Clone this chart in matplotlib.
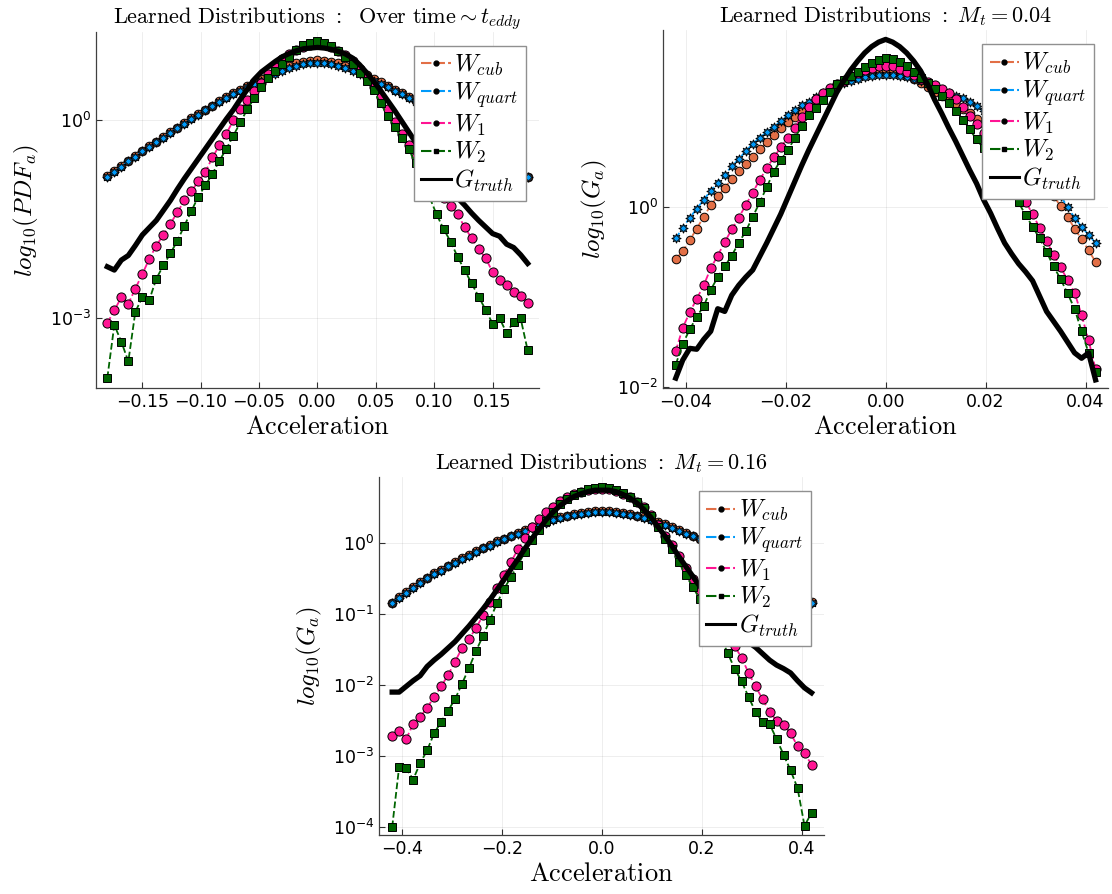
import numpy as np
import matplotlib
matplotlib.use("Agg")
import matplotlib.pyplot as plt
from matplotlib.lines import Line2D
from matplotlib.ticker import FixedLocator, LogFormatterMathtext, FuncFormatter

plt.rcParams['mathtext.fontset'] = 'cm'
plt.rcParams['font.family'] = 'DejaVu Sans'
plt.rcParams['axes.unicode_minus'] = True

# ── Data : log10 of the learned / true densities ──

# panel 1 : over time ~ t_eddy
ACC_1 = np.linspace(-0.18, 0.18, 61)
CUB_1 = [-0.85, -0.77, -0.70, -0.62, -0.55, -0.48, -0.40, -0.33, -0.26, -0.19,
         -0.12, -0.05, 0.02, 0.08, 0.15, 0.21, 0.28, 0.34, 0.40, 0.45,
         0.51, 0.57, 0.62, 0.67, 0.72, 0.77, 0.81, 0.85, 0.87, 0.89,
         0.90,
         0.89, 0.87, 0.85, 0.81, 0.77, 0.72, 0.67, 0.62, 0.57, 0.51,
         0.45, 0.40, 0.34, 0.28, 0.21, 0.15, 0.08, 0.02, -0.05, -0.12,
         -0.19, -0.26, -0.33, -0.40, -0.48, -0.55, -0.62, -0.70, -0.77, -0.86]
QUART_1 = [-0.87, -0.79, -0.71, -0.63, -0.56, -0.48, -0.41, -0.34, -0.27, -0.20,
           -0.12, -0.06, 0.01, 0.07, 0.14, 0.20, 0.26, 0.32, 0.38, 0.43,
           0.49, 0.54, 0.59, 0.64, 0.69, 0.74, 0.78, 0.81, 0.84, 0.85,
           0.86,
           0.85, 0.84, 0.81, 0.78, 0.74, 0.69, 0.64, 0.59, 0.54, 0.49,
           0.43, 0.38, 0.32, 0.26, 0.20, 0.14, 0.07, 0.01, -0.06, -0.12,
           -0.20, -0.27, -0.34, -0.41, -0.48, -0.56, -0.63, -0.71, -0.79, -0.87]
W1_1 = [-3.07, -2.88, -2.68, -2.78, -2.55, -2.33, -2.10, -1.90, -1.74, -1.57,
        -1.40, -1.22, -1.08, -0.93, -0.79, -0.57, -0.39, -0.21, -0.01, 0.16,
        0.30, 0.43, 0.56, 0.69, 0.80, 0.92, 0.99, 1.05, 1.10, 1.13,
        1.15,
        1.14, 1.09, 1.04, 0.97, 0.88, 0.77, 0.64, 0.50, 0.34, 0.16,
        -0.03, -0.21, -0.39, -0.57, -0.74, -0.91, -1.05, -1.18, -1.31, -1.43,
        -1.62, -1.79, -1.95, -2.09, -2.30, -2.42, -2.50, -2.60, -2.66, -2.77]
W2_1 = [-3.90, -3.10, -3.35, -3.65, -2.90, -2.68, -2.72, -2.40, -2.20, -2.02,
        -1.83, -1.60, -1.38, -1.16, -0.99, -0.82, -0.62, -0.44, -0.24, -0.04,
        0.16, 0.33, 0.50, 0.63, 0.74, 0.84, 0.95, 1.05, 1.12, 1.16,
        1.18,
        1.16, 1.11, 1.04, 0.95, 0.84, 0.71, 0.58, 0.44, 0.25, 0.06,
        -0.11, -0.27, -0.45, -0.65, -0.85, -1.17, -1.43, -1.65, -1.84, -2.07,
        -2.27, -2.47, -2.67, -2.87, -3.08, -3.00, -3.22, -3.05, -3.00, -3.48]
TRUTH_1 = [-2.22, -2.27, -2.12, -2.05, -1.90, -1.74, -1.63, -1.52, -1.37, -1.22,
           -1.05, -0.89, -0.74, -0.59, -0.44, -0.29, -0.14, 0.01, 0.15, 0.31,
           0.46, 0.61, 0.72, 0.80, 0.88, 0.95, 1.00, 1.04, 1.07, 1.08,
           1.09,
           1.08, 1.06, 1.03, 0.99, 0.93, 0.83, 0.71, 0.58, 0.44, 0.29,
           0.14, -0.02, -0.18, -0.34, -0.50, -0.64, -0.79, -0.92, -1.04, -1.18,
           -1.29, -1.41, -1.52, -1.62, -1.72, -1.76, -1.88, -1.93, -2.04, -2.17]

# panel 2 : M_t = 0.04
ACC_2 = np.linspace(-0.042, 0.042, 61)
CUB_2 = [-0.58, -0.49, -0.37, -0.24, -0.11, 0.02, 0.12, 0.21, 0.31, 0.40,
         0.48, 0.56, 0.64, 0.72, 0.80, 0.88, 0.94, 1.00, 1.06, 1.11,
         1.18, 1.24, 1.31, 1.36, 1.41, 1.45, 1.47, 1.49, 1.51, 1.52,
         1.52,
         1.51, 1.49, 1.46, 1.42, 1.38, 1.33, 1.28, 1.23, 1.19, 1.13,
         1.09, 1.04, 0.98, 0.92, 0.86, 0.79, 0.72, 0.64, 0.56, 0.49,
         0.40, 0.31, 0.22, 0.12, 0.01, -0.11, -0.24, -0.36, -0.48, -0.61]
QUART_2 = [-0.35, -0.23, -0.12, -0.02, 0.08, 0.18, 0.27, 0.36, 0.45, 0.53,
           0.62, 0.70, 0.77, 0.83, 0.89, 0.95, 1.02, 1.08, 1.13, 1.17,
           1.22, 1.27, 1.31, 1.35, 1.38, 1.40, 1.42, 1.44, 1.45, 1.46,
           1.46,
           1.46, 1.45, 1.44, 1.42, 1.40, 1.37, 1.34, 1.30, 1.26, 1.23,
           1.21, 1.17, 1.12, 1.06, 1.00, 0.94, 0.87, 0.80, 0.72, 0.63,
           0.54, 0.45, 0.35, 0.24, 0.12, 0.00, -0.12, -0.22, -0.31, -0.40]
W1_2 = [-1.60, -1.34, -1.17, -1.02, -0.87, -0.68, -0.54, -0.39, -0.25, -0.12,
        0.02, 0.16, 0.30, 0.43, 0.55, 0.66, 0.77, 0.88, 1.00, 1.11,
        1.20, 1.26, 1.32, 1.36, 1.40, 1.45, 1.49, 1.52, 1.54, 1.56,
        1.57,
        1.56, 1.53, 1.50, 1.46, 1.42, 1.39, 1.35, 1.31, 1.26, 1.20,
        1.11, 1.01, 0.92, 0.82, 0.71, 0.60, 0.49, 0.37, 0.22, 0.06,
        -0.08, -0.23, -0.38, -0.53, -0.67, -0.81, -0.95, -1.20, -1.48, -1.80]
W2_2 = [-1.75, -1.52, -1.36, -1.22, -1.10, -0.92, -0.78, -0.66, -0.54, -0.40,
        -0.27, -0.11, 0.05, 0.22, 0.39, 0.52, 0.63, 0.76, 0.90, 1.02,
        1.10, 1.19, 1.28, 1.36, 1.41, 1.45, 1.50, 1.55, 1.60, 1.63,
        1.65,
        1.64, 1.61, 1.56, 1.50, 1.43, 1.38, 1.31, 1.23, 1.15, 1.07,
        0.97, 0.86, 0.75, 0.65, 0.55, 0.45, 0.32, 0.19, 0.05, -0.09,
        -0.22, -0.35, -0.50, -0.66, -0.80, -0.96, -1.13, -1.38, -1.62, -1.83]
TRUTH_2 = [-1.90, -1.70, -1.57, -1.58, -1.47, -1.38, -1.13, -1.16, -0.98, -0.87,
           -0.78, -0.70, -0.55, -0.40, -0.24, -0.08, 0.10, 0.28, 0.46, 0.63,
           0.79, 0.95, 1.11, 1.27, 1.40, 1.52, 1.62, 1.71, 1.78, 1.83,
           1.86,
           1.83, 1.78, 1.71, 1.62, 1.51, 1.36, 1.19, 1.04, 0.88, 0.73,
           0.57, 0.41, 0.26, 0.08, -0.07, -0.24, -0.40, -0.52, -0.63, -0.72,
           -0.82, -0.99, -1.16, -1.27, -1.38, -1.50, -1.62, -1.68, -1.62, -1.92]

# panel 3 : M_t = 0.16
ACC_3 = np.linspace(-0.42, 0.42, 61)
CUB_3 = [-0.84, -0.76, -0.69, -0.62, -0.55, -0.49, -0.43, -0.38, -0.32, -0.27,
         -0.22, -0.17, -0.12, -0.07, -0.03, 0.02, 0.06, 0.10, 0.14, 0.18,
         0.22, 0.26, 0.29, 0.33, 0.36, 0.38, 0.40, 0.42, 0.44, 0.45,
         0.45,
         0.45, 0.44, 0.42, 0.40, 0.38, 0.36, 0.33, 0.29, 0.26, 0.22,
         0.18, 0.14, 0.10, 0.06, 0.02, -0.03, -0.07, -0.12, -0.17, -0.22,
         -0.27, -0.32, -0.38, -0.43, -0.49, -0.55, -0.62, -0.69, -0.76, -0.83]
QUART_3 = [-0.85, -0.77, -0.70, -0.63, -0.56, -0.50, -0.44, -0.39, -0.33, -0.28,
           -0.23, -0.18, -0.13, -0.08, -0.04, 0.01, 0.05, 0.09, 0.13, 0.17,
           0.21, 0.25, 0.28, 0.32, 0.35, 0.37, 0.39, 0.41, 0.42, 0.43,
           0.43,
           0.43, 0.42, 0.41, 0.39, 0.37, 0.35, 0.32, 0.28, 0.25, 0.21,
           0.17, 0.13, 0.09, 0.05, 0.01, -0.04, -0.08, -0.13, -0.18, -0.23,
           -0.28, -0.33, -0.39, -0.44, -0.50, -0.56, -0.63, -0.70, -0.77, -0.84]
W1_3 = [-2.72, -2.65, -2.76, -2.55, -2.45, -2.32, -2.17, -2.02, -1.86, -1.67,
        -1.48, -1.35, -1.20, -1.02, -0.83, -0.63, -0.45, -0.27, -0.09, 0.07,
        0.22, 0.33, 0.43, 0.51, 0.59, 0.65, 0.69, 0.72, 0.74, 0.75,
        0.76,
        0.75, 0.73, 0.69, 0.64, 0.58, 0.50, 0.39, 0.25, 0.10, -0.03,
        -0.19, -0.35, -0.51, -0.66, -0.80, -0.95, -1.09, -1.25, -1.45, -1.62,
        -1.83, -2.02, -2.20, -2.38, -2.50, -2.56, -2.68, -2.86, -2.96, -3.12]
W2_3 = [-4.00, -3.15, -3.17, -3.33, -3.10, -2.92, -2.68, -2.52, -2.36, -2.20,
        -1.98, -1.76, -1.52, -1.31, -1.08, -0.85, -0.65, -0.48, -0.31, -0.13,
        0.04, 0.18, 0.31, 0.43, 0.54, 0.62, 0.67, 0.71, 0.75, 0.77,
        0.78,
        0.77, 0.74, 0.70, 0.65, 0.58, 0.49, 0.37, 0.22, 0.06, -0.09,
        -0.27, -0.45, -0.62, -0.79, -0.93, -1.10, -1.32, -1.55, -1.77, -1.95,
        -2.17, -2.38, -2.52, -2.55, -2.76, -2.98, -3.20, -3.45, -3.98, -3.80]
TRUTH_3 = [-2.10, -2.10, -2.02, -1.94, -1.87, -1.74, -1.65, -1.57, -1.48, -1.39,
           -1.28, -1.17, -1.05, -0.93, -0.80, -0.66, -0.52, -0.37, -0.23, -0.08,
           0.06, 0.19, 0.32, 0.43, 0.52, 0.59, 0.65, 0.69, 0.72, 0.74,
           0.74,
           0.74, 0.72, 0.68, 0.63, 0.56, 0.47, 0.36, 0.23, 0.10, -0.04,
           -0.19, -0.33, -0.47, -0.61, -0.74, -0.87, -0.99, -1.10, -1.21, -1.31,
           -1.40, -1.47, -1.56, -1.65, -1.72, -1.77, -1.83, -1.94, -2.04, -2.11]

LABELS = [r"$W_{cub}$", r"$W_{quart}$", r"$W_1$", r"$W_2$", r"$G_{truth}$"]

C_CUB   = '#e26f46'
C_QUART = '#009afa'
C_W1    = '#ff1493'
C_W2    = '#006400'
C_TRUTH = 'black'


def minus_fmt(fmt):
    return FuncFormatter(lambda v, pos: (fmt % v).replace('-', '\u2212'))


def draw_panel(ax, acc, cub, quart, w1, w2, truth, title, ylabel,
               xlim, ylim, xticks, yticks, xfmt):
    dash = dict(ls='--', lw=1.3, mec='black', mew=0.7)
    ax.plot(acc, 10 ** np.array(cub), color=C_CUB, marker='o', ms=6.2, mfc=C_CUB, **dash)
    ax.plot(acc, 10 ** np.array(quart), color=C_QUART, marker=(8, 1, 0), ms=6.8, mfc=C_QUART, **dash)
    ax.plot(acc, 10 ** np.array(w1), color=C_W1, marker='o', ms=6.6, mfc=C_W1, **dash)
    ax.plot(acc, 10 ** np.array(w2), color=C_W2, marker='s', ms=6.4, mfc=C_W2, **dash)
    ax.plot(acc, 10 ** np.array(truth), color=C_TRUTH, lw=3.8, solid_joinstyle='round')

    ax.set_yscale('log')
    ax.set_xlim(*xlim)
    ax.set_ylim(10 ** ylim[0], 10 ** ylim[1])
    ax.minorticks_off()
    ax.xaxis.set_major_locator(FixedLocator(xticks))
    ax.xaxis.set_major_formatter(minus_fmt(xfmt))
    ax.yaxis.set_major_locator(FixedLocator([10.0 ** k for k in yticks]))
    ax.yaxis.set_major_formatter(LogFormatterMathtext())

    ax.grid(True, color='black', alpha=0.08, lw=0.6)
    for side in ('top', 'right'):
        ax.spines[side].set_visible(False)
    for side in ('left', 'bottom'):
        ax.spines[side].set_color('#404040')
        ax.spines[side].set_linewidth(0.9)
    ax.tick_params(direction='in', length=4, width=0.8, labelsize=12.5,
                   colors='#303030', labelcolor='black')

    ax.set_title(title, fontsize=16, pad=6)
    ax.set_xlabel(r"$\mathrm{Acceleration}$", fontsize=19, labelpad=2)
    ax.set_ylabel(ylabel, fontsize=18, labelpad=6)

    sty = dict(lw=1.5, ls=(0, (5, 1.5)), ms=3.5, mfc='k', mec='k')
    handles = [
        Line2D([], [], color=C_CUB, marker='o', **sty),
        Line2D([], [], color=C_QUART, marker='o', **sty),
        Line2D([], [], color=C_W1, marker='o', **sty),
        Line2D([], [], color=C_W2, marker='s', **sty),
        Line2D([], [], color=C_TRUTH, lw=2.2),
    ]
    leg = ax.legend(handles, LABELS, loc='upper right', fontsize=17.5, frameon=True,
                    fancybox=False, framealpha=1.0, edgecolor='#909090',
                    borderaxespad=0.55, borderpad=0.3, labelspacing=0.1,
                    handlelength=1.2, handletextpad=0.15)
    leg.get_frame().set_linewidth(1.0)
    leg.set_zorder(10)


fig = plt.figure(figsize=(11.12, 8.94), dpi=100)
ax1 = fig.add_axes([0.086, 0.566, 0.399, 0.398])
ax2 = fig.add_axes([0.596, 0.566, 0.400, 0.400])
ax3 = fig.add_axes([0.341, 0.066, 0.400, 0.400])

draw_panel(ax1, ACC_1, CUB_1, QUART_1, W1_1, W2_1, TRUTH_1,
           r"$\mathrm{Learned\ Distributions\ :\ \ Over\ time} \sim t_{eddy}$",
           r"$log_{10}(PDF_a)$",
           (-0.19, 0.19), (-4.05, 1.32),
           [-0.15, -0.10, -0.05, 0.0, 0.05, 0.10, 0.15], [0, -3], '%.2f')
draw_panel(ax2, ACC_2, CUB_2, QUART_2, W1_2, W2_2, TRUTH_2,
           r"$\mathrm{Learned\ Distributions\ :\ }M_t = 0.04$",
           r"$log_{10}(G_a)$",
           (-0.0446, 0.0444), (-2.01, 1.96),
           [-0.04, -0.02, 0.0, 0.02, 0.04], [0, -2], '%.2f')
draw_panel(ax3, ACC_3, CUB_3, QUART_3, W1_3, W2_3, TRUTH_3,
           r"$\mathrm{Learned\ Distributions\ :\ }M_t = 0.16$",
           r"$log_{10}(G_a)$",
           (-0.446, 0.445), (-4.11, 0.92),
           [-0.4, -0.2, 0.0, 0.2, 0.4], [0, -1, -2, -3, -4], '%.1f')

fig.savefig("out.png", dpi=100)
